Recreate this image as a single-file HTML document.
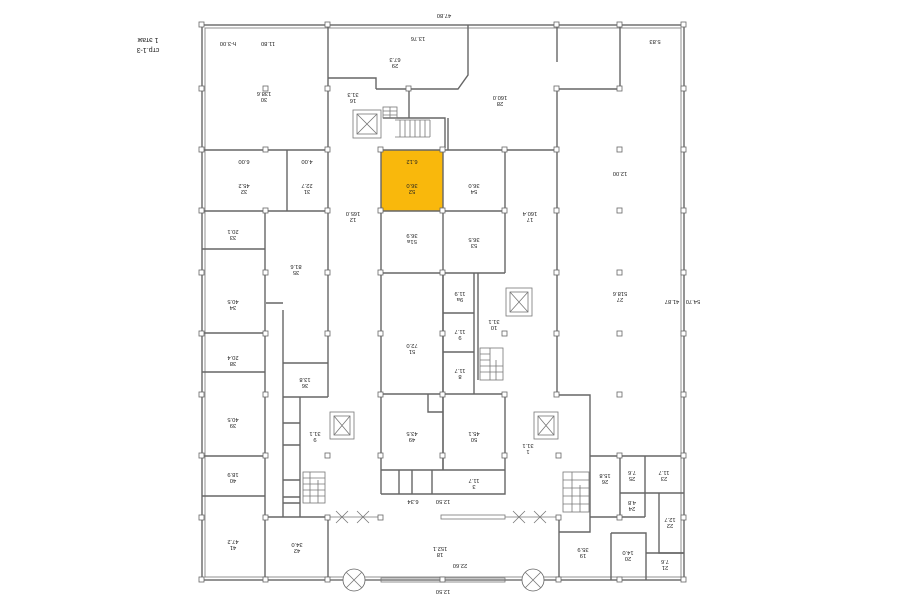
<!DOCTYPE html>
<html><head><meta charset="utf-8"><style>
html,body{margin:0;padding:0;background:#fff}
svg{display:block}
text{font-family:"Liberation Sans",sans-serif;font-size:5.8px;fill:#222;text-anchor:middle}
.w{stroke:#666;stroke-width:1.4;fill:none}
.t{stroke:#777;stroke-width:0.8;fill:none}
.c{fill:#fff;stroke:#666;stroke-width:0.8}
.big{font-size:7px}
</style></head><body>
<svg width="900" height="604" viewBox="0 0 900 604" xmlns="http://www.w3.org/2000/svg">
<rect x="381" y="150" width="62" height="61" fill="#f9b80c"/>
<rect x="202" y="25" width="482" height="555" class="w"/>
<rect x="205" y="28" width="476" height="549" class="t"/>
<g class="w">
<path d="M328 25V397M328 517V580"/>
<path d="M202 150H328M202 211H328M287 150V211"/>
<path d="M265 211V580M202 249H265M202 333H265M202 372H265M202 456H265M202 496H265"/>
<path d="M283 310V517M266 303H283M283 363H328M300 397V517M283 397H328"/>
<path d="M283 423H300M283 445H300M283 480H300M283 497H300M283 503H300"/>
<path d="M265 517H328"/>
<path d="M328 78H376V89M376 89H458L468 75V25M409 89V118"/>
<path d="M383 118H445V148M448 118V150"/>
<path d="M381 150H557M381 150V494M443 150V470M505 150V273M381 211H505M381 273H505"/>
<path d="M443 273V394M474 273V394M478 273V380M443 313H474M443 352H474M381 394H505V494H381M443 394V470M381 470H505"/>
<path d="M399 470V494M412 470V494M432 470V494M428 394V412H443"/>
<path d="M557 25V62M557 89H620V25M557 89V395H590V517"/>
<path d="M590 456H684M620 456V517M645 456V517M620 493H684M659 493V553H684M590 517H645"/>
<path d="M559 517V580M559 532H590V517M611 533V580M611 533H646V580M646 553H684"/>
</g>
<g class="t">
<path d="M328 517H381M505 517H557"/>
<path d="M336 511l12 12M348 511l-12 12M357 511l12 12M369 511l-12 12M513 511l12 12M525 511l-12 12M534 511l12 12M546 511l-12 12"/>
<rect x="441" y="515" width="64" height="4"/>
<rect x="381" y="578" width="124" height="4"/>
<path d="M328 580H557"/>
</g>
<g class="c">
<circle cx="354" cy="580" r="11"/><circle cx="533" cy="580" r="11"/>
</g>
<g class="t">
<path d="M346 572l16 16M362 572l-16 16M525 572l16 16M541 572l-16 16"/>
<rect x="353" y="110" width="28" height="28"/><rect x="357" y="114" width="20" height="20"/><path d="M357 114l20 20M377 114l-20 20"/>
<rect x="506" y="288" width="26" height="28"/><rect x="510" y="292" width="18" height="20"/><path d="M510 292l18 20M528 292l-18 20"/>
<rect x="330" y="412" width="24" height="27"/><rect x="334" y="416" width="16" height="19"/><path d="M334 416l16 19M350 416l-16 19"/>
<rect x="534" y="412" width="24" height="27"/><rect x="538" y="416" width="16" height="19"/><path d="M538 416l16 19M554 416l-16 19"/>
<rect x="383" y="107" width="14" height="11"/><path d="M383 111H397M383 115H397M390 107V118"/>
<path d="M395 120H430M395 137H430M400 120V137M405 120V137M410 120V137M415 120V137M420 120V137M425 120V137M430 120V137"/>
<rect x="480" y="348" width="23" height="32"/><path d="M480 354H490M480 360H490M480 366H503M480 372H503M490 348V380M496 360V380"/>
<rect x="303" y="472" width="22" height="31"/><path d="M303 478H325M303 484H325M303 490H325M303 496H325M310 472V503M318 480V503"/>
<rect x="563" y="472" width="26" height="40"/><path d="M563 480H589M563 488H589M563 496H589M563 504H589M572 472V512M580 485V512"/>
</g>
<g fill="#fff" stroke="#666" stroke-width="0.8">
<rect x="199" y="22" width="5" height="5"/><rect x="325" y="22" width="5" height="5"/><rect x="554" y="22" width="5" height="5"/><rect x="617" y="22" width="5" height="5"/><rect x="681" y="22" width="5" height="5"/>
<rect x="325" y="86" width="5" height="5"/><rect x="406" y="86" width="5" height="5"/><rect x="554" y="86" width="5" height="5"/><rect x="617" y="86" width="5" height="5"/><rect x="681" y="86" width="5" height="5"/><rect x="199" y="86" width="5" height="5"/><rect x="263" y="86" width="5" height="5"/>
<rect x="199" y="147" width="5" height="5"/><rect x="263" y="147" width="5" height="5"/><rect x="325" y="147" width="5" height="5"/><rect x="378" y="147" width="5" height="5"/><rect x="440" y="147" width="5" height="5"/><rect x="502" y="147" width="5" height="5"/><rect x="554" y="147" width="5" height="5"/><rect x="617" y="147" width="5" height="5"/><rect x="681" y="147" width="5" height="5"/>
<rect x="199" y="208" width="5" height="5"/><rect x="263" y="208" width="5" height="5"/><rect x="325" y="208" width="5" height="5"/><rect x="378" y="208" width="5" height="5"/><rect x="440" y="208" width="5" height="5"/><rect x="502" y="208" width="5" height="5"/><rect x="554" y="208" width="5" height="5"/><rect x="617" y="208" width="5" height="5"/><rect x="681" y="208" width="5" height="5"/>
<rect x="199" y="270" width="5" height="5"/><rect x="263" y="270" width="5" height="5"/><rect x="325" y="270" width="5" height="5"/><rect x="378" y="270" width="5" height="5"/><rect x="440" y="270" width="5" height="5"/><rect x="554" y="270" width="5" height="5"/><rect x="617" y="270" width="5" height="5"/><rect x="681" y="270" width="5" height="5"/>
<rect x="199" y="331" width="5" height="5"/><rect x="263" y="331" width="5" height="5"/><rect x="325" y="331" width="5" height="5"/><rect x="378" y="331" width="5" height="5"/><rect x="440" y="331" width="5" height="5"/><rect x="502" y="331" width="5" height="5"/><rect x="554" y="331" width="5" height="5"/><rect x="617" y="331" width="5" height="5"/><rect x="681" y="331" width="5" height="5"/>
<rect x="199" y="392" width="5" height="5"/><rect x="263" y="392" width="5" height="5"/><rect x="378" y="392" width="5" height="5"/><rect x="440" y="392" width="5" height="5"/><rect x="502" y="392" width="5" height="5"/><rect x="554" y="392" width="5" height="5"/><rect x="617" y="392" width="5" height="5"/><rect x="681" y="392" width="5" height="5"/>
<rect x="199" y="453" width="5" height="5"/><rect x="263" y="453" width="5" height="5"/><rect x="325" y="453" width="5" height="5"/><rect x="378" y="453" width="5" height="5"/><rect x="440" y="453" width="5" height="5"/><rect x="502" y="453" width="5" height="5"/><rect x="556" y="453" width="5" height="5"/><rect x="617" y="453" width="5" height="5"/><rect x="681" y="453" width="5" height="5"/>
<rect x="199" y="515" width="5" height="5"/><rect x="263" y="515" width="5" height="5"/><rect x="325" y="515" width="5" height="5"/><rect x="378" y="515" width="5" height="5"/><rect x="556" y="515" width="5" height="5"/><rect x="617" y="515" width="5" height="5"/><rect x="681" y="515" width="5" height="5"/>
<rect x="199" y="577" width="5" height="5"/><rect x="263" y="577" width="5" height="5"/><rect x="325" y="577" width="5" height="5"/><rect x="440" y="577" width="5" height="5"/><rect x="556" y="577" width="5" height="5"/><rect x="617" y="577" width="5" height="5"/><rect x="681" y="577" width="5" height="5"/>
</g>
<g>
<text class="big" transform="rotate(180 148 38)" x="148" y="38">1 этаж</text>
<text class="big" transform="rotate(180 148 48)" x="148" y="48">стр.1-3</text>
<text transform="rotate(180 444 14)" x="444" y="14">47.80</text>
<text transform="rotate(180 264 98)" x="264" y="98">30</text><text transform="rotate(180 264 92)" x="264" y="92">138.6</text>
<text transform="rotate(180 228 42)" x="228" y="42">h-3.00</text><text transform="rotate(180 268 42)" x="268" y="42">11.80</text>
<text transform="rotate(180 395 64)" x="395" y="64">29</text><text transform="rotate(180 395 58)" x="395" y="58">67.3</text>
<text transform="rotate(180 418 37)" x="418" y="37">13.76</text>
<text transform="rotate(180 500 102)" x="500" y="102">28</text><text transform="rotate(180 500 96)" x="500" y="96">160.0</text>
<text transform="rotate(180 353 99)" x="353" y="99">16</text><text transform="rotate(180 353 93)" x="353" y="93">31.3</text>
<text transform="rotate(180 412 190)" x="412" y="190">52</text><text transform="rotate(180 412 184)" x="412" y="184">36.0</text>
<text transform="rotate(180 412 160)" x="412" y="160">6.12</text>
<text transform="rotate(180 474 190)" x="474" y="190">54</text><text transform="rotate(180 474 184)" x="474" y="184">36.0</text>
<text transform="rotate(180 244 190)" x="244" y="190">32</text><text transform="rotate(180 244 184)" x="244" y="184">45.2</text>
<text transform="rotate(180 307 190)" x="307" y="190">31</text><text transform="rotate(180 307 184)" x="307" y="184">22.7</text>
<text transform="rotate(180 244 160)" x="244" y="160">6.00</text><text transform="rotate(180 307 160)" x="307" y="160">4.00</text>
<text transform="rotate(180 353 218)" x="353" y="218">12</text><text transform="rotate(180 353 212)" x="353" y="212">165.0</text>
<text transform="rotate(180 530 218)" x="530" y="218">17</text><text transform="rotate(180 530 212)" x="530" y="212">160.4</text>
<text transform="rotate(180 620 172)" x="620" y="172">12.00</text>
<text transform="rotate(180 620 298)" x="620" y="298">27</text><text transform="rotate(180 620 292)" x="620" y="292">518.6</text>
<text transform="rotate(180 412 240)" x="412" y="240">51a</text><text transform="rotate(180 412 234)" x="412" y="234">36.9</text>
<text transform="rotate(180 474 244)" x="474" y="244">53</text><text transform="rotate(180 474 238)" x="474" y="238">36.5</text>
<text transform="rotate(180 233 236)" x="233" y="236">33</text><text transform="rotate(180 233 230)" x="233" y="230">20.1</text>
<text transform="rotate(180 296 271)" x="296" y="271">35</text><text transform="rotate(180 296 265)" x="296" y="265">81.6</text>
<text transform="rotate(180 233 306)" x="233" y="306">34</text><text transform="rotate(180 233 300)" x="233" y="300">40.5</text>
<text transform="rotate(180 412 350)" x="412" y="350">51</text><text transform="rotate(180 412 344)" x="412" y="344">72.0</text>
<text transform="rotate(180 233 362)" x="233" y="362">38</text><text transform="rotate(180 233 356)" x="233" y="356">20.4</text>
<text transform="rotate(180 305 384)" x="305" y="384">36</text><text transform="rotate(180 305 378)" x="305" y="378">13.8</text>
<text transform="rotate(180 233 424)" x="233" y="424">39</text><text transform="rotate(180 233 418)" x="233" y="418">40.5</text>
<text transform="rotate(180 315 438)" x="315" y="438">9</text><text transform="rotate(180 315 432)" x="315" y="432">31.1</text>
<text transform="rotate(180 412 438)" x="412" y="438">49</text><text transform="rotate(180 412 432)" x="412" y="432">43.5</text>
<text transform="rotate(180 474 438)" x="474" y="438">50</text><text transform="rotate(180 474 432)" x="474" y="432">45.1</text>
<text transform="rotate(180 233 479)" x="233" y="479">40</text><text transform="rotate(180 233 473)" x="233" y="473">18.9</text>
<text transform="rotate(180 233 546)" x="233" y="546">41</text><text transform="rotate(180 233 540)" x="233" y="540">47.2</text>
<text transform="rotate(180 297 549)" x="297" y="549">42</text><text transform="rotate(180 297 543)" x="297" y="543">34.0</text>
<text transform="rotate(180 440 553)" x="440" y="553">18</text><text transform="rotate(180 440 547)" x="440" y="547">152.1</text>
<text transform="rotate(180 460 564)" x="460" y="564">22.60</text>
<text transform="rotate(180 443 590)" x="443" y="590">12.50</text><text transform="rotate(180 443 500)" x="443" y="500">12.50</text>
<text transform="rotate(180 583 554)" x="583" y="554">19</text><text transform="rotate(180 583 548)" x="583" y="548">35.9</text>
<text transform="rotate(180 628 557)" x="628" y="557">20</text><text transform="rotate(180 628 551)" x="628" y="551">14.0</text>
<text transform="rotate(180 605 480)" x="605" y="480">26</text><text transform="rotate(180 605 474)" x="605" y="474">15.8</text>
<text transform="rotate(180 632 477)" x="632" y="477">25</text><text transform="rotate(180 632 471)" x="632" y="471">7.6</text>
<text transform="rotate(180 664 477)" x="664" y="477">23</text><text transform="rotate(180 664 471)" x="664" y="471">11.7</text>
<text transform="rotate(180 632 507)" x="632" y="507">24</text><text transform="rotate(180 632 501)" x="632" y="501">4.8</text>
<text transform="rotate(180 670 524)" x="670" y="524">22</text><text transform="rotate(180 670 518)" x="670" y="518">12.7</text>
<text transform="rotate(180 665 566)" x="665" y="566">21</text><text transform="rotate(180 665 560)" x="665" y="560">7.6</text>
<text transform="rotate(180 528 450)" x="528" y="450">1</text><text transform="rotate(180 528 444)" x="528" y="444">31.1</text>
<text transform="rotate(180 494 326)" x="494" y="326">10</text><text transform="rotate(180 494 320)" x="494" y="320">31.1</text>
<text transform="rotate(180 460 298)" x="460" y="298">9a</text><text transform="rotate(180 460 292)" x="460" y="292">11.9</text>
<text transform="rotate(180 460 336)" x="460" y="336">9</text><text transform="rotate(180 460 330)" x="460" y="330">11.7</text>
<text transform="rotate(180 460 375)" x="460" y="375">8</text><text transform="rotate(180 460 369)" x="460" y="369">11.7</text>
<text transform="rotate(180 474 485)" x="474" y="485">3</text><text transform="rotate(180 474 479)" x="474" y="479">11.7</text>
<text transform="rotate(180 413 500)" x="413" y="500">6.34</text>
<text transform="rotate(180 693 300)" x="693" y="300">54.70</text><text transform="rotate(180 672 300)" x="672" y="300">41.87</text>
<text transform="rotate(180 655 40)" x="655" y="40">5.83</text>
</g>
</svg>
</body></html>
